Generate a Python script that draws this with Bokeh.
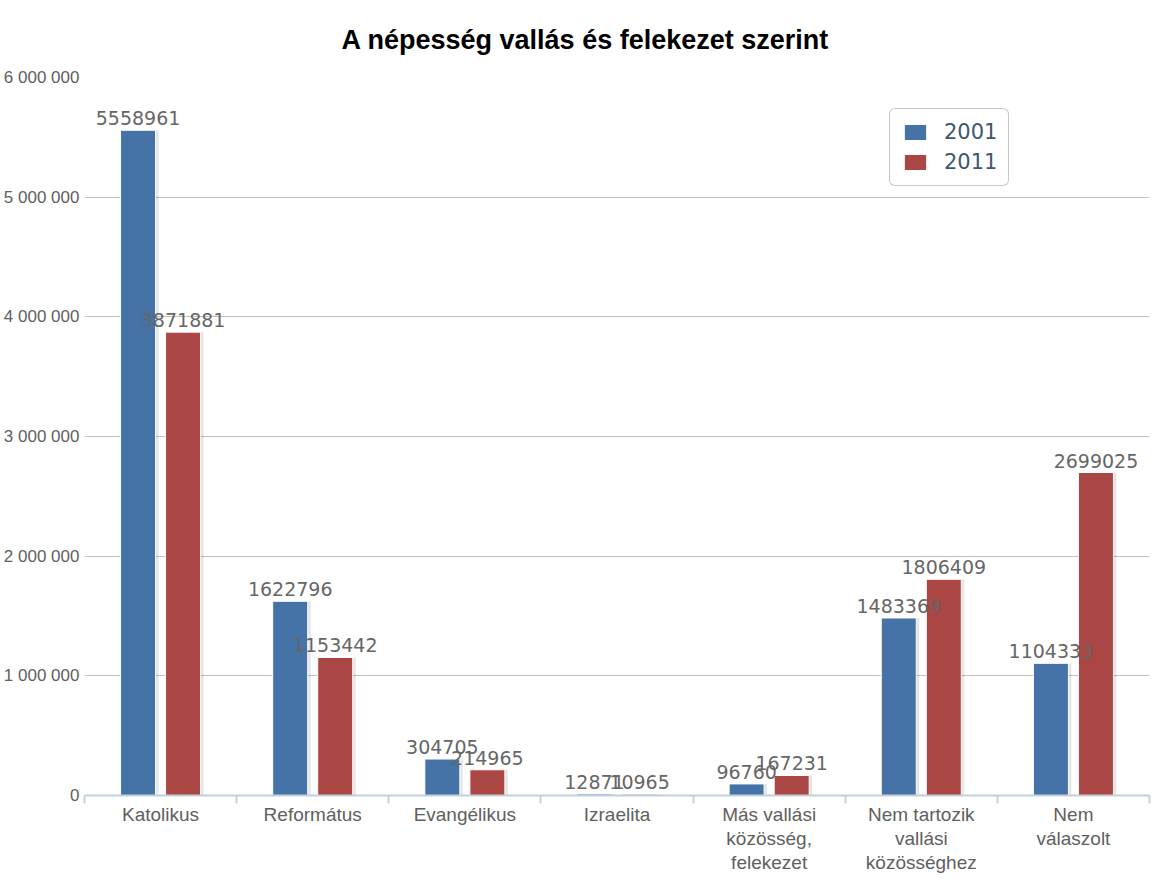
from bokeh.plotting import figure
from bokeh.models import (Range1d, FixedTicker, ColumnDataSource, Legend, LegendItem)
from bokeh.transform import dodge
from bokeh.core.properties import value
from bokeh.embed import file_html
from bokeh.resources import INLINE

# ---- data ----
chart_title = "A népesség vallás és felekezet szerint"
categories = ["Katolikus", "Református", "Evangélikus", "Izraelita",
              "Más vallási\nközösség,\nfelekezet",
              "Nem tartozik\nvallási\nközösséghez",
              "Nem\nválaszolt"]
series_names = ["2001", "2011"]
values_2001 = [5558961, 1622796, 304705, 12871, 96760, 1483369, 1104333]
values_2011 = [3871881, 1153442, 214965, 10965, 167231, 1806409, 2699025]
y_ticks = [0, 1000000, 2000000, 3000000, 4000000, 5000000, 6000000]
y_tick_labels = ["0", "1 000 000", "2 000 000", "3 000 000",
                 "4 000 000", "5 000 000", "6 000 000"]

# ---- styles ----
BLUE = "#4572A7"
RED = "#AA4643"
AXIS_TEXT = "#606060"
OFF = 0.148
BW = 0.23

n = len(categories)
centers = [i + 0.5 for i in range(n)]          # category slot centres
src = ColumnDataSource(dict(
    pos=centers,
    v01=values_2001,
    v11=values_2011,
    l01=[str(v) for v in values_2001],
    l11=[str(v) for v in values_2011],
))

p = figure(width=1159, height=878,
           x_range=Range1d(0, n),
           y_range=Range1d(y_ticks[0], y_ticks[-1]),
           output_backend="svg", toolbar_location=None,
           min_border_left=84, min_border_right=10,
           min_border_top=75, min_border_bottom=83,
           title=chart_title)
p.outline_line_color = None
p.background_fill_color = "white"
p.border_fill_color = "white"

p.title.align = "left"
p.title.offset = 257
p.title.standoff = 45
p.title.vertical_align = "bottom"
p.title.text_font = "Liberation Sans"
p.title.text_font_size = "27px"
p.title.text_font_style = "bold"
p.title.text_color = "black"

# y axis
p.yaxis.ticker = FixedTicker(ticks=y_ticks)
p.yaxis.major_label_overrides = dict(zip(y_ticks, y_tick_labels))
p.yaxis.axis_line_color = None
p.yaxis.major_tick_line_color = None
p.yaxis.major_tick_out = 0
p.yaxis.major_tick_in = 0
p.yaxis.minor_tick_line_color = None
p.yaxis.minor_tick_out = 0
p.yaxis.major_label_text_font = "Liberation Sans"
p.yaxis.major_label_text_font_size = "17px"
p.yaxis.major_label_text_color = AXIS_TEXT
p.yaxis.major_label_standoff = 5
p.ygrid.ticker = FixedTicker(ticks=y_ticks)
p.ygrid.grid_line_color = "#C0C0C0"
p.ygrid.grid_line_width = 1
p.xgrid.visible = False

# x axis: labels at slot centres, ticks at slot boundaries
xax = p.xaxis[0]
xax.ticker = FixedTicker(ticks=centers, minor_ticks=list(range(n + 1)))
xax.major_label_overrides = {c: lab for c, lab in zip(centers, categories)}
xax.axis_line_color = "#C0D0E0"
xax.axis_line_width = 2
xax.major_tick_line_color = None
xax.major_tick_out = 0
xax.major_tick_in = 0
xax.minor_tick_line_color = "#C0D0E0"
xax.minor_tick_line_width = 2
xax.minor_tick_out = 8
xax.minor_tick_in = 0
xax.major_label_text_font = "Liberation Sans"
xax.major_label_text_font_size = "19px"
xax.major_label_text_color = AXIS_TEXT
xax.major_label_text_line_height = 1.15
xax.major_label_standoff = 0
xax.major_label_orientation = "horizontal"

# shadows
for col, off in (("v01", -OFF), ("v11", OFF)):
    p.vbar(x=dodge("pos", off + 0.013), top=col, width=BW + 0.013,
           source=src, fill_color="black", fill_alpha=0.10, line_color=None)

r01 = p.vbar(x=dodge("pos", -OFF), top="v01", width=BW,
             source=src, fill_color=BLUE, line_color="white", line_width=1)
r11 = p.vbar(x=dodge("pos", OFF), top="v11", width=BW,
             source=src, fill_color=RED, line_color="white", line_width=1)

for col, lab, off in (("v01", "l01", -OFF), ("v11", "l11", OFF)):
    p.text(x=dodge("pos", off), y=col, text=lab, source=src,
           text_align="center", text_baseline="alphabetic", y_offset=-12,
           text_font=value("DejaVu Sans"), text_font_size="19px",
           text_color="#666666")

legend = Legend(items=[LegendItem(label=series_names[0], renderers=[r01]),
                       LegendItem(label=series_names[1], renderers=[r11])],
                location=(805, 609))
legend.border_line_color = "#909090"
legend.border_line_width = 1
legend.background_fill_color = "white"
legend.background_fill_alpha = 1
legend.padding = 11
legend.spacing = 6
legend.margin = 0
legend.glyph_width = 28
legend.glyph_height = 20
legend.label_height = 20
legend.label_standoff = 15
legend.label_text_font = "DejaVu Sans"
legend.label_text_font_size = "21px"
legend.label_text_color = "#3E576F"
try:
    legend.border_radius = 6
except Exception:
    pass
p.add_layout(legend)

open("out.html", "w").write(file_html(p, INLINE))
